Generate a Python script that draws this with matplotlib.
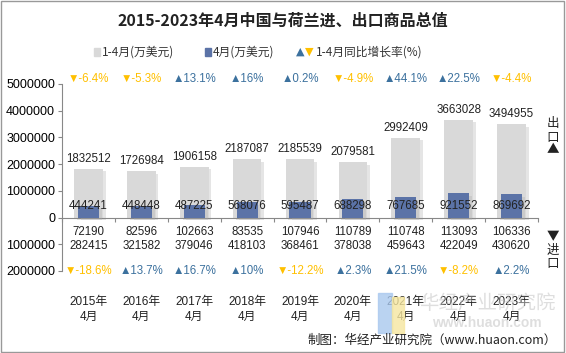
import numpy as np
import matplotlib.pyplot as plt
import matplotlib.patheffects as pe
from matplotlib.ticker import FuncFormatter
from matplotlib.patches import Rectangle

plt.rcParams['font.family'] = ['Liberation Sans', 'Noto Sans CJK SC', 'DejaVu Sans']

years = ['2015年\n4月', '2016年\n4月', '2017年\n4月', '2018年\n4月', '2019年\n4月',
         '2020年\n4月', '2021年\n4月', '2022年\n4月', '2023年\n4月']
export_ytd = [1832512, 1726984, 1906158, 2187087, 2185539, 2079581, 2992409, 3663028, 3494955]
export_apr = [444241, 448448, 487225, 568076, 595487, 688298, 767685, 921552, 869692]
import_apr = [72190, 82596, 102663, 83535, 107946, 110789, 110748, 113093, 106336]
import_ytd = [282415, 321582, 379046, 418103, 368461, 378038, 459643, 422049, 430620]
export_rate = [-6.4, -5.3, 13.1, 16, 0.2, -4.9, 44.1, 22.5, -4.4]
import_rate = [-18.6, 13.7, 16.7, 10, -12.2, 2.3, 21.5, -8.2, 2.2]

gray = '#d9d9d9'
blue = '#5b73a7'
up_c = '#3c719e'
down_c = '#ffc000'
cjk = ['Noto Sans CJK SC', 'DejaVu Sans']

fig = plt.figure(figsize=(5.66, 3.53), dpi=100)
ax = fig.add_axes([62 / 566, 1 - 276.3 / 353, 476 / 566, 203 / 353])
x = np.arange(len(years))

shadow = [pe.SimplePatchShadow(offset=(2, -2), shadow_rgbFace='#aaaaaa', alpha=0.3), pe.Normal()]
b1 = ax.bar(x, export_ytd, width=0.54, color=gray, zorder=2)
b2 = ax.bar(x, export_apr, width=0.40, color=blue, zorder=3)
for b in list(b1) + list(b2):
    b.set_path_effects(shadow)

ax.set_xlim(-0.5, len(years) - 0.5)
ax.set_ylim(-2.2e6, 5.4e6)
ax.set_yticks(np.arange(-2e6, 5.1e6, 1e6))
ax.yaxis.set_major_formatter(FuncFormatter(lambda v, p: '%d' % abs(v)))
ax.tick_params(axis='y', labelsize=9, length=3, color='#888888', pad=2)
ax.spines['left'].set_bounds(-2e6, 5e6)
ax.spines['left'].set_color('#888888')
ax.spines['right'].set_visible(False)
ax.spines['top'].set_visible(False)
ax.spines['bottom'].set_position(('data', 0))
ax.spines['bottom'].set_color('#888888')
ax.set_xticks(np.arange(-0.5, len(years), 1.0))
ax.set_xticklabels([])
ax.tick_params(axis='x', length=3, color='#888888')

for i in range(len(years)):
    ax.text(x[i], export_ytd[i] + 1.5e5, str(export_ytd[i]), ha='center', va='bottom',
            fontsize=8.3, color='#222222', zorder=5)
    ax.text(x[i], 4.2e5, str(export_apr[i]), ha='center', va='center',
            fontsize=8.3, color='#222222', zorder=5)
    ax.text(x[i], -5.3e5, str(import_apr[i]), ha='center', va='center',
            fontsize=8.3, color='#222222')
    ax.text(x[i], -1.07e6, str(import_ytd[i]), ha='center', va='center',
            fontsize=8.3, color='#222222')
    for val, yy in ((export_rate[i], 5.2e6), (import_rate[i], -2.0e6)):
        sym = '▲' if val >= 0 else '▼'
        col = up_c if val >= 0 else down_c
        ax.text(x[i], yy, '%s%g%%' % (sym, val), ha='center', va='center',
                fontsize=8.3, color=col, family=['Liberation Sans', 'DejaVu Sans'])
    ax.text(x[i], -2.95e6, years[i], ha='center', va='top', fontsize=8.5,
            color='#222222', linespacing=1.3)

# side labels, one glyph per line
for s, yp in zip(['出', '口', '▲'], [124, 137, 150]):
    fig.text(553 / 566, 1 - yp / 353, s, ha='center', va='center', fontsize=9,
             color='#222222', family=cjk)
for s, yp in zip(['▼', '进', '口'], [237, 250, 263]):
    fig.text(553 / 566, 1 - yp / 353, s, ha='center', va='center', fontsize=9,
             color='#222222', family=cjk)

# title and legend
fig.text(0.5, 1 - 21 / 353, '2015-2023年4月中国与荷兰进、出口商品总值', ha='center', va='center',
         fontsize=11.5, fontweight='bold', color='#222222', family=cjk)
ly = 1 - 52 / 353
fig.patches.append(Rectangle((94 / 566, ly - 0.012), 6 / 566, 0.022, color=gray,
                             transform=fig.transFigure, figure=fig))
fig.text(102 / 566, ly, '1-4月(万美元)', va='center', fontsize=8.5, color='#333333', family=cjk)
fig.patches.append(Rectangle((205 / 566, ly - 0.012), 6 / 566, 0.022, color=blue,
                             transform=fig.transFigure, figure=fig))
fig.text(213 / 566, ly, '4月(万美元)', va='center', fontsize=8.5, color='#333333', family=cjk)
fig.text(296 / 566, ly, '▲', va='center', fontsize=8, color=up_c, family=['DejaVu Sans'])
fig.text(305 / 566, ly, '▼', va='center', fontsize=8, color=down_c, family=['DejaVu Sans'])
fig.text(316 / 566, ly, '1-4月同比增长率(%)', va='center', fontsize=8.5, color='#333333', family=cjk)

# watermark and source
fig.text(487 / 566, 1 - 303 / 353, '华经产业研究院', ha='center', va='center', fontsize=14,
         color='#c4c4c4', alpha=0.55, family=cjk)
fig.text(487 / 566, 1 - 323 / 353, 'www.huaon.com', ha='center', va='center', fontsize=10,
         color='#c4c4c4', alpha=0.55, fontweight='bold')
fig.patches.append(Rectangle((378 / 566, 1 - 333 / 353), 14 / 566, 40 / 353, color='#a9c8ee',
                             alpha=0.8, transform=fig.transFigure, figure=fig))
fig.patches.append(Rectangle((392 / 566, 1 - 333 / 353), 12 / 566, 36 / 353, color='#f6e7a0',
                             alpha=0.8, transform=fig.transFigure, figure=fig))
fig.text(557 / 566, 1 - 340 / 353, '制图：华经产业研究院（www.huaon.com）', ha='right', va='center',
         fontsize=9, color='#222222', family=cjk)

fig.patches.append(Rectangle((0.002, 0.003), 0.995, 0.993, fill=False, edgecolor='#999999',
                             lw=1, transform=fig.transFigure, figure=fig))

plt.savefig('out.png', dpi=100)
